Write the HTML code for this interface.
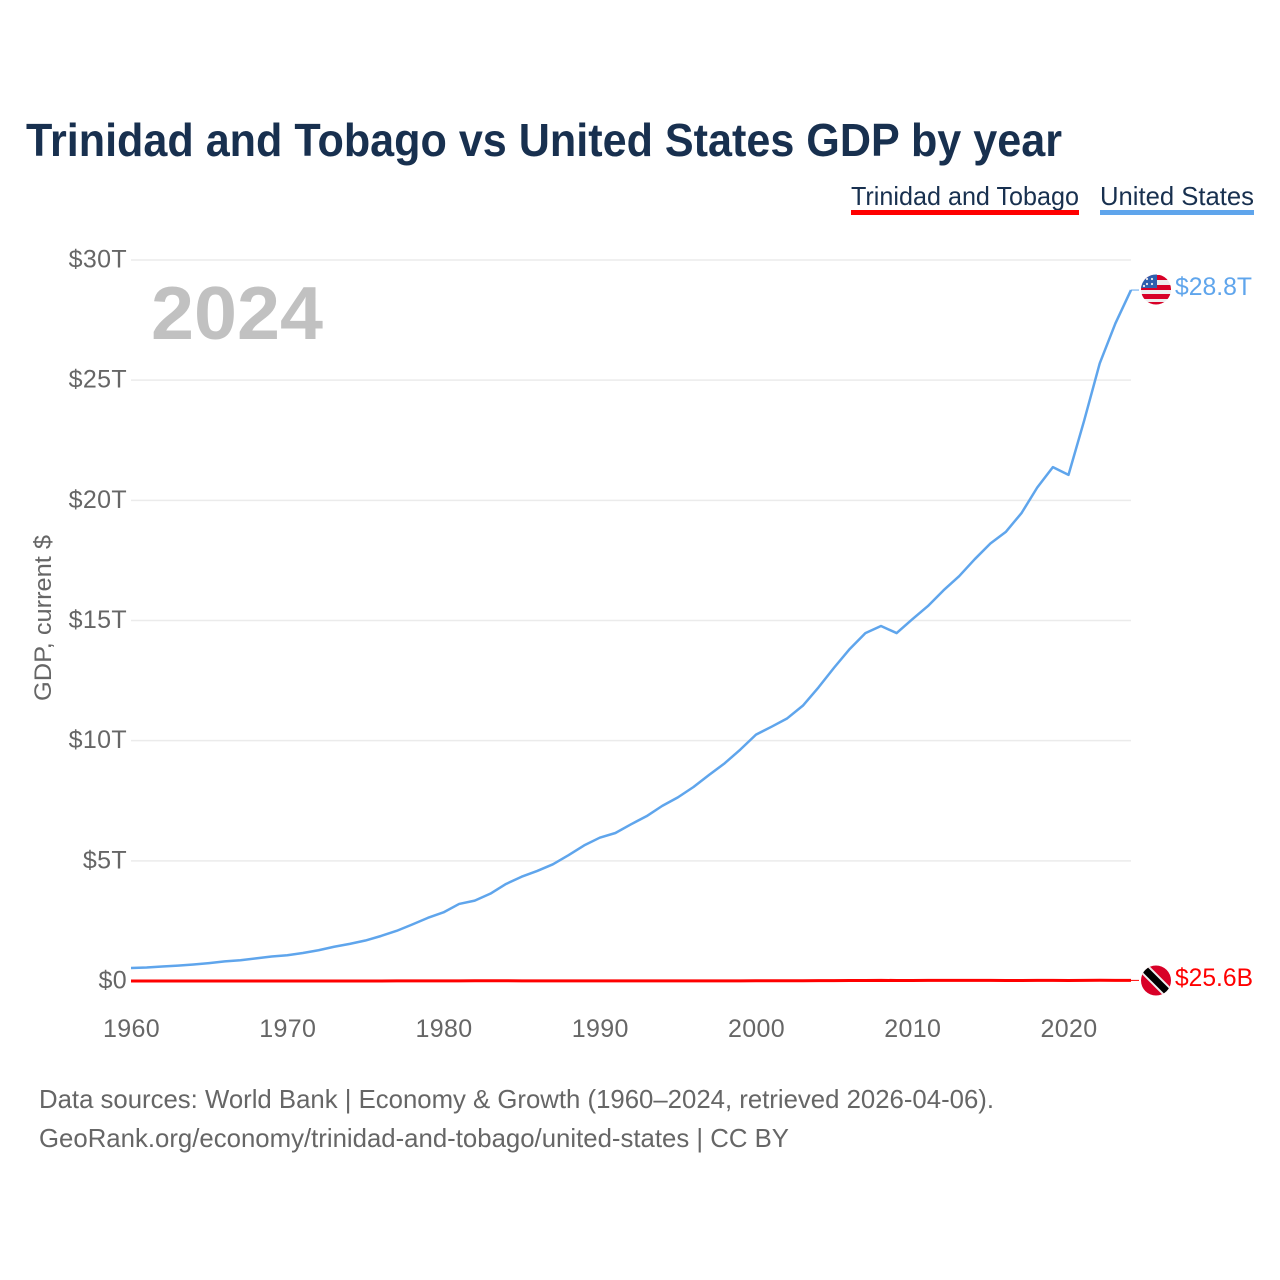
<!DOCTYPE html>
<html lang="en">
<head>
<meta charset="utf-8">
<title>Trinidad and Tobago vs United States GDP by year</title>
<style>
html,body{margin:0;padding:0;background:#fff;}
svg{display:block;font-family:"Liberation Sans",sans-serif;}
.tick{font-size:25px;fill:#666;letter-spacing:.35px;}
</style>
</head>
<body>
<svg id="chart" xmlns="http://www.w3.org/2000/svg" width="1280" height="1280" viewBox="0 0 1280 1280">
  <rect x="0" y="0" width="1280" height="1280" fill="#fff"/>
  <text x="26" y="156" font-size="46" font-weight="700" fill="#18304f" textLength="1036" lengthAdjust="spacingAndGlyphs">Trinidad and Tobago vs United States GDP by year</text>

  <g>
    <text x="851" y="205" font-size="26" fill="#18304f" textLength="228" lengthAdjust="spacingAndGlyphs">Trinidad and Tobago</text>
    <rect x="851" y="210" width="228" height="5" fill="#ff0000"/>
  </g>
  <g>
    <text x="1100" y="205" font-size="26" fill="#18304f" textLength="154" lengthAdjust="spacingAndGlyphs">United States</text>
    <rect x="1100" y="210" width="154" height="5" fill="#5fa5ec"/>
  </g>

  <g id="grid"></g>
  <g id="yticks"></g>
  <g id="xticks"></g>

  <text transform="translate(51,701) rotate(-90)" font-size="24" fill="#666" textLength="166" lengthAdjust="spacingAndGlyphs">GDP, current $</text>
  <text x="151" y="339" font-size="75" font-weight="700" fill="#c1c1c1" textLength="172" lengthAdjust="spacingAndGlyphs">2024</text>

  <g id="series"></g>

  <defs>
    <clipPath id="usClip"><circle cx="1156" cy="289.5" r="15"/></clipPath>
    <clipPath id="ttClip"><circle cx="1156" cy="980.5" r="15"/></clipPath>
  </defs>

  <g clip-path="url(#usClip)">
    <rect x="1141" y="274" width="30" height="32" fill="#eeeeee"/>
    <rect x="1141" y="275" width="30" height="5" fill="#d80027"/>
    <rect x="1141" y="285" width="30" height="5" fill="#d80027"/>
    <rect x="1141" y="294" width="30" height="5" fill="#d80027"/>
    <rect x="1141" y="302" width="30" height="4" fill="#d80027"/>
    <rect x="1141" y="274" width="16" height="14" fill="#2f5fae"/>
    <circle cx="1147" cy="279" r="1.1" fill="#eee"/>
    <circle cx="1152" cy="279" r="1.1" fill="#eee"/>
    <circle cx="1147" cy="284" r="1.1" fill="#eee"/>
    <circle cx="1152" cy="284" r="1.1" fill="#eee"/>
    <circle cx="1144" cy="286" r="1.1" fill="#eee"/>
  </g>
  <g clip-path="url(#ttClip)">
    <rect x="1141" y="965" width="30" height="31" fill="#d80027"/>
    <line x1="1141" y1="965.5" x2="1171" y2="995.5" stroke="#eeeeee" stroke-width="11"/>
    <line x1="1141" y1="965.5" x2="1171" y2="995.5" stroke="#000" stroke-width="7"/>
  </g>

  <text x="1175" y="295" font-size="25" fill="#5fa5ec" textLength="77" lengthAdjust="spacingAndGlyphs">$28.8T</text>
  <text x="1175" y="986" font-size="25" fill="#ff0000" textLength="78" lengthAdjust="spacingAndGlyphs">$25.6B</text>

  <text x="39" y="1108" font-size="26" fill="#666" textLength="955" lengthAdjust="spacingAndGlyphs">Data sources: World Bank | Economy &amp; Growth (1960–2024, retrieved 2026-04-06).</text>
  <text x="39" y="1147" font-size="26" fill="#666" textLength="750" lengthAdjust="spacingAndGlyphs">GeoRank.org/economy/trinidad-and-tobago/united-states | CC BY</text>
</svg>
<script>
const NS = 'http://www.w3.org/2000/svg';

const years = [1960,1961,1962,1963,1964,1965,1966,1967,1968,1969,1970,1971,1972,1973,1974,1975,1976,1977,1978,1979,1980,1981,1982,1983,1984,1985,1986,1987,1988,1989,1990,1991,1992,1993,1994,1995,1996,1997,1998,1999,2000,2001,2002,2003,2004,2005,2006,2007,2008,2009,2010,2011,2012,2013,2014,2015,2016,2017,2018,2019,2020,2021,2022,2023,2024];

// GDP in trillions of current US dollars
const usValues = [0.543,0.563,0.605,0.639,0.686,0.744,0.815,0.862,0.943,1.019,1.073,1.165,1.279,1.425,1.545,1.684,1.873,2.086,2.352,2.627,2.857,3.207,3.343,3.634,4.037,4.339,4.580,4.855,5.236,5.642,5.963,6.158,6.520,6.859,7.287,7.640,8.073,8.578,9.063,9.631,10.251,10.582,10.929,11.457,12.217,13.039,13.816,14.474,14.770,14.478,15.049,15.600,16.254,16.843,17.551,18.206,18.695,19.477,20.533,21.381,21.060,23.315,25.700,27.361,28.750];

// GDP in billions of current US dollars
const ttValues = [0.54,0.57,0.62,0.65,0.68,0.70,0.69,0.71,0.73,0.79,0.80,0.87,1.07,1.37,2.0,2.4,2.6,3.0,3.6,4.6,6.2,6.8,8.0,7.8,7.7,7.3,4.8,4.7,4.5,4.3,5.1,5.3,5.4,4.7,5.0,5.3,5.8,5.7,6.0,6.8,8.2,8.8,9.0,11.3,13.3,15.9,18.4,21.6,27.9,19.2,22.2,25.4,26.2,27.3,27.3,25.9,22.8,22.8,23.8,23.6,21.5,24.5,30.5,27.0,25.6];

const yTickValues = [0,5,10,15,20,25,30];
const yTickLabels = ['$0','$5T','$10T','$15T','$20T','$25T','$30T'];
const xTickValues = [1960,1970,1980,1990,2000,2010,2020];
const xTickLabels = ['1960','1970','1980','1990','2000','2010','2020'];

function xScale(year){ return 131 + (year - 1960) * (1131 - 131) / 64; }
function yScale(trillions){ return 981 - trillions * (981 - 260) / 30; }

const grid = document.getElementById('grid');
const yticks = document.getElementById('yticks');
const xticks = document.getElementById('xticks');
const series = document.getElementById('series');

yTickValues.forEach(function(v, i){
  if (v > 0) {
    const line = document.createElementNS(NS, 'line');
    
    
    line.setAttribute('x1', xScale(1960));
    line.setAttribute('x2', xScale(2024));
    line.setAttribute('y1', yScale(v));
    line.setAttribute('y2', yScale(v));
    line.setAttribute('stroke', '#ebebeb');
    line.setAttribute('stroke-width', '1.5');
    grid.appendChild(line);
  }
  const t = document.createElementNS(NS, 'text');
  
  
  t.setAttribute('class', 'tick');
  t.setAttribute('x', 127);
  t.setAttribute('y', yScale(v) + 7.5);
  t.setAttribute('text-anchor', 'end');
  t.textContent = yTickLabels[i];
  yticks.appendChild(t);
});

xTickValues.forEach(function(v, i){
  const t = document.createElementNS(NS, 'text');
  
  
  t.setAttribute('class', 'tick');
  t.setAttribute('x', xScale(v) + 0.5);
  t.setAttribute('y', 1037);
  t.setAttribute('text-anchor', 'middle');
  t.textContent = xTickLabels[i];
  xticks.appendChild(t);
});

function linePoints(values, toTrillions){
  return values.map(function(v, i){
    return xScale(years[i]).toFixed(2) + ',' + yScale(toTrillions(v)).toFixed(2);
  }).join(' ');
}

const usLine = document.createElementNS(NS, 'polyline');


usLine.setAttribute('points', linePoints(usValues, function(v){ return v; }));
usLine.setAttribute('fill', 'none');
usLine.setAttribute('stroke', '#5fa5ec');
usLine.setAttribute('stroke-width', '2.5');
usLine.setAttribute('stroke-linejoin', 'round');
series.appendChild(usLine);

const ttLine = document.createElementNS(NS, 'polyline');


ttLine.setAttribute('points', linePoints(ttValues, function(v){ return v / 1000; }));
ttLine.setAttribute('fill', 'none');
ttLine.setAttribute('stroke', '#ff0000');
ttLine.setAttribute('stroke-width', '3');
ttLine.setAttribute('stroke-linejoin', 'round');
series.appendChild(ttLine);

const lastIndex = years.length - 1;

const usLeader = document.createElementNS(NS, 'line');


usLeader.setAttribute('x1', xScale(years[lastIndex]));
usLeader.setAttribute('x2', xScale(years[lastIndex]) + 8);
usLeader.setAttribute('y1', yScale(usValues[lastIndex]));
usLeader.setAttribute('y2', yScale(usValues[lastIndex]));
usLeader.setAttribute('stroke', '#5fa5ec');
usLeader.setAttribute('stroke-width', '1');
series.appendChild(usLeader);

const ttLeader = document.createElementNS(NS, 'line');


ttLeader.setAttribute('x1', xScale(years[lastIndex]));
ttLeader.setAttribute('x2', xScale(years[lastIndex]) + 8);
ttLeader.setAttribute('y1', yScale(ttValues[lastIndex] / 1000));
ttLeader.setAttribute('y2', yScale(ttValues[lastIndex] / 1000));
ttLeader.setAttribute('stroke', '#ff0000');
ttLeader.setAttribute('stroke-width', '1');
series.appendChild(ttLeader);
</script>
</body>
</html>
